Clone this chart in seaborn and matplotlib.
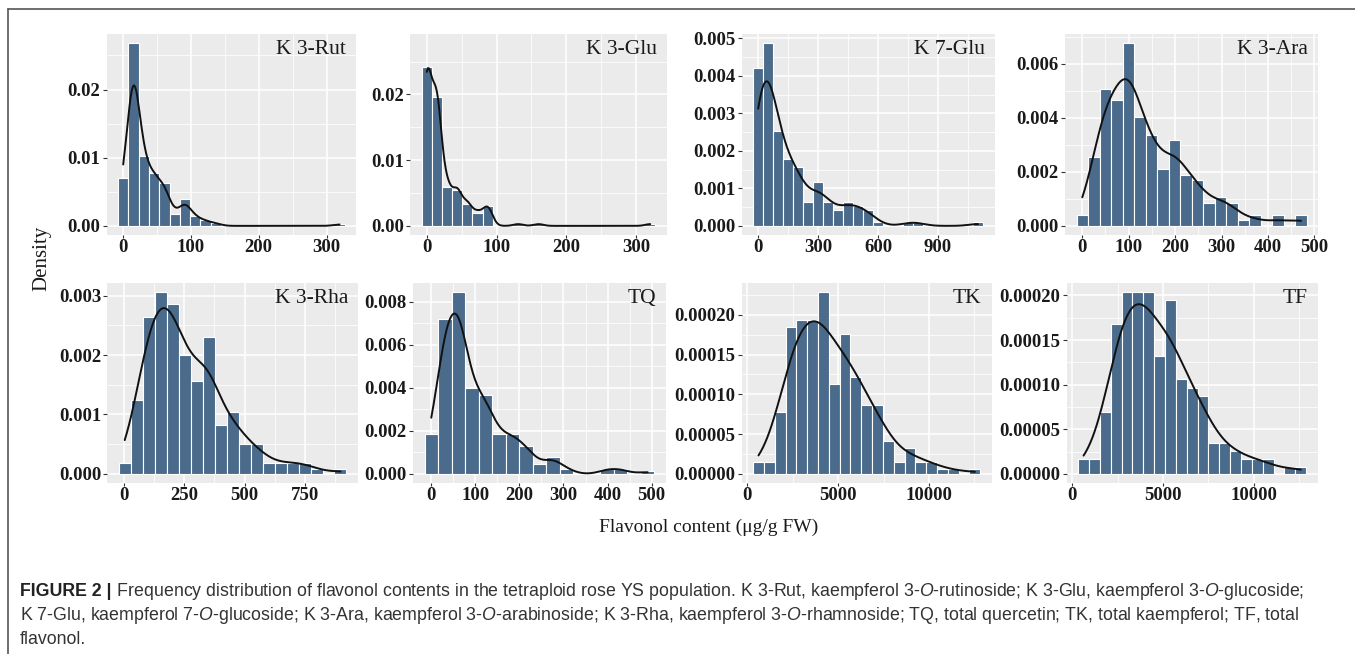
import numpy as np
import pandas as pd
import matplotlib
matplotlib.use("Agg")
import matplotlib.pyplot as plt
from matplotlib.ticker import MultipleLocator, FormatStrFormatter
from matplotlib.lines import Line2D
import seaborn as sns

# ---------------- data ----------------
panel_names = ["K 3-Rut", "K 3-Glu", "K 7-Glu", "K 3-Ara", "K 3-Rha", "TQ", "TK", "TF"]

# centre of the first bin and bin width for every panel
first_centres = [0.0, 0.0, 0.0, 0.0, 4.2, 0.0, 624.0, 624.0]
bin_widths = [15.2, 14.55, 50.0, 24.8, 49.6, 30.7, 595.0, 598.0]

k3rut_density = [0.00708, 0.02683, 0.01027, 0.00776, 0.00634, 0.00172, 0.00388, 0.00143,
                 0.0008, 0.0004, 0, 0, 0, 0, 0, 0, 0, 0, 0, 0, 0, 0.0003]
k3glu_density = [0.02421, 0.01959, 0.00584, 0.00543, 0.0034, 0.00198, 0.00305, 0, 0,
                 0.0003, 0, 0.0003, 0, 0, 0, 0, 0, 0, 0, 0, 0, 0, 0.0003]
k7glu_density = [0.00422, 0.00487, 0.00254, 0.00179, 0.00158, 0.00064, 0.00117, 0.00064,
                 0.00042, 0.00064, 0.00053, 0.00042, 0.00011, 0, 0, 0.00011, 0.00011,
                 0, 0, 0, 0, 0, 0.00011]
k3ara_density = [0.000406, 0.00253, 0.00508, 0.00465, 0.00676, 0.00401, 0.00338, 0.0021,
                 0.00317, 0.00188, 0.0017, 0.00084, 0.00105, 0.00084, 0.0002, 0.0004, 0,
                 0.0004, 0, 0.0004]
k3rha_density = [0.000186, 0.00125, 0.00264, 0.00306, 0.00286, 0.002, 0.00157, 0.00231,
                 0.00083, 0.00104, 0.000508, 0.000508, 0.00019, 0.00019, 0.00019, 0.00019,
                 0.000086, 0, 0.000086]
tq_density = [0.00186, 0.0072, 0.00846, 0.00399, 0.00365, 0.00186, 0.00186, 0.00132,
              0.00045, 0.00081, 0.00025, 0, 0, 0.00025, 0.00025, 0, 0.00013]
tk_density = [1.51e-5, 1.51e-5, 7.76e-5, 1.845e-4, 1.929e-4, 1.929e-4, 2.285e-4, 1.132e-4,
              1.757e-4, 1.224e-4, 8.68e-5, 8.68e-5, 4.19e-5, 1.51e-5, 3.31e-5, 1.51e-5,
              1.51e-5, 5.9e-6, 5.9e-6, 0, 5.9e-6]
tf_density = [1.67e-5, 1.67e-5, 6.99e-5, 1.68e-4, 2.037e-4, 2.037e-4, 2.037e-4, 1.32e-4,
              1.944e-4, 1.06e-4, 9.67e-5, 8.74e-5, 3.46e-5, 3.46e-5, 2.6e-5, 1.67e-5,
              1.67e-5, 1.67e-5, 0, 8.2e-6, 8.2e-6]
densities = [k3rut_density, k3glu_density, k7glu_density, k3ara_density,
             k3rha_density, tq_density, tk_density, tf_density]

# kernel bandwidth (data units) of the density curves
kde_bandwidths = [9, 7, 46, 24, 52, 21, 850, 800]

# highest value shown on each panel (bar or density curve)
y_data_max = [0.0268, 0.0278, 0.00487, 0.00676, 0.00306, 0.00846, 0.0002285, 0.0002037]

x_tick_steps = [100, 100, 300, 100, 250, 100, 5000, 5000]
y_tick_steps = [0.01, 0.01, 0.001, 0.002, 0.001, 0.002, 0.00005, 0.00005]
y_tick_formats = ["%.2f", "%.2f", "%.3f", "%.3f", "%.3f", "%.3f", "%.5f", "%.5f"]

x_title = "Flavonol content (\u03bcg/g FW)"
y_title = "Density"

# ---------------- layout (pixels of the 1355 x 654 canvas) ----------------
W, H = 1355, 654
panel_boxes = [(106.7, 356.0, 34, 235), (410, 667, 34, 235), (741.7, 994.5, 34, 235),
               (1065, 1318.3, 34, 235), (107.3, 358, 283, 483), (413, 666, 283, 483),
               (741.7, 991.7, 283, 483), (1066.7, 1317.7, 283, 483)]

sns.set_theme(style="darkgrid", rc={
    "axes.facecolor": "#EBEBEB", "grid.color": "white",
    "axes.edgecolor": "#EBEBEB", "axes.linewidth": 0,
})
plt.rcParams["font.family"] = ["Liberation Serif", "DejaVu Serif"]
plt.rcParams["mathtext.fontset"] = "custom"
plt.rcParams["mathtext.rm"] = "Liberation Sans"
plt.rcParams["mathtext.it"] = "Liberation Sans:italic"
plt.rcParams["mathtext.bf"] = "Liberation Sans:bold"

BAR_COLOR = "#4A6B8B"
TEXT_COLOR = "#1A1A1A"

fig = plt.figure(figsize=(W / 100, H / 100), dpi=100)
fig.patch.set_facecolor("white")

for i, name in enumerate(panel_names):
    l, r, t, b = panel_boxes[i]
    ax = fig.add_axes([l / W, 1 - b / H, (r - l) / W, (b - t) / H])
    dens = np.array(densities[i], dtype=float)
    w = bin_widths[i]
    centres = first_centres[i] + w * np.arange(len(dens))
    lo_edge = centres[0] - w / 2
    hi_edge = centres[-1] + w / 2
    df = pd.DataFrame({"value": centres, "density": dens})

    sns.histplot(data=df, x="value", weights="density", binwidth=w,
                 binrange=(lo_edge, hi_edge - w * 0.01), stat="count", color=BAR_COLOR,
                 edgecolor="white", linewidth=0.8, alpha=1, ax=ax, zorder=2)
    std = np.sqrt(np.cov(centres, aweights=dens))
    sns.kdeplot(data=df, x="value", weights="density", bw_method=kde_bandwidths[i] / std,
                cut=0, color="#111111", linewidth=1.4, ax=ax, zorder=3)
    kx = ax.lines[-1].get_xdata()

    # ggplot-like 5 % expansion
    x_lo = min(lo_edge, kx.min())
    x_hi = max(hi_edge, kx.max())
    pad = 0.05 * (x_hi - x_lo)
    ax.set_xlim(x_lo - pad, x_hi + pad)
    y_hi = y_data_max[i]
    ax.set_ylim(-0.05 * y_hi, 1.05 * y_hi)

    ax.xaxis.set_major_locator(MultipleLocator(x_tick_steps[i]))
    ax.xaxis.set_minor_locator(MultipleLocator(x_tick_steps[i] / 2))
    ax.yaxis.set_major_locator(MultipleLocator(y_tick_steps[i]))
    ax.yaxis.set_minor_locator(MultipleLocator(y_tick_steps[i] / 2))
    ax.yaxis.set_major_formatter(FormatStrFormatter(y_tick_formats[i]))
    ax.grid(which="major", color="white", linewidth=1.1)
    ax.grid(which="minor", color="white", linewidth=0.55)
    ax.set_axisbelow(True)
    ax.tick_params(which="major", labelsize=13.5, labelcolor=TEXT_COLOR, color="#333333",
                   width=0.8, bottom=True, left=True)
    ax.tick_params(axis="x", which="major", length=2, pad=1)
    ax.tick_params(axis="y", which="major", length=3, pad=1.5)
    ax.tick_params(which="minor", length=0)
    for lab in ax.get_xticklabels() + ax.get_yticklabels():
        lab.set_fontweight("bold")
    ax.set_xlabel("")
    ax.set_ylabel("")
    for s in ax.spines.values():
        s.set_visible(False)
    ax.text(1 - 10 / (r - l), 1 - 6 / (b - t), name, transform=ax.transAxes,
            ha="right", va="top", fontsize=15.5, color=TEXT_COLOR)

fig.text(42 / W, 1 - 258 / H, y_title, rotation=90, ha="center", va="center",
         fontsize=15, color=TEXT_COLOR)
fig.text(709 / W, 1 - 527 / H, x_title, ha="center", va="center",
         fontsize=14, color=TEXT_COLOR)

# frame lines of the figure box
fig.add_artist(Line2D([8 / W, 1], [1 - 8.5 / H, 1 - 8.5 / H], color="#555555", lw=1.2))
fig.add_artist(Line2D([8 / W, 8 / W], [0, 1 - 8.5 / H], color="#555555", lw=1.2))

# caption
cap_font = ["Liberation Sans", "DejaVu Sans"]
head_font = ["Liberation Sans Narrow", "Liberation Sans", "DejaVu Sans"]
cap_size = 12.8
cap_color = "#333333"
line1 = (" Frequency distribution of flavonol contents in the tetraploid rose YS population. "
         "K 3-Rut, kaempferol 3-$\\mathit{O}$-rutinoside; K 3-Glu, kaempferol 3-$\\mathit{O}$-glucoside;")
line2 = ("K 7-Glu, kaempferol 7-$\\mathit{O}$-glucoside; K 3-Ara, kaempferol 3-$\\mathit{O}$-arabinoside; "
         "K 3-Rha, kaempferol 3-$\\mathit{O}$-rhamnoside; TQ, total quercetin; TK, total kaempferol; TF, total")
line3 = "flavonol."

head = fig.text(20 / W, 1 - 592 / H, "FIGURE 2 |", family=head_font, fontsize=cap_size,
                fontweight="bold", color="#222222", ha="left", va="center")
fig.canvas.draw()
bb = head.get_window_extent(renderer=fig.canvas.get_renderer())
fig.text(bb.x1 / W, 1 - 592 / H, line1, family=cap_font, fontsize=cap_size,
         color=cap_color, ha="left", va="center")
fig.text(20 / W, 1 - 616 / H, line2, family=cap_font, fontsize=cap_size,
         color=cap_color, ha="left", va="center")
fig.text(20 / W, 1 - 640 / H, line3, family=cap_font, fontsize=cap_size,
         color=cap_color, ha="left", va="center")

fig.savefig("out.png", dpi=100, facecolor="white")
